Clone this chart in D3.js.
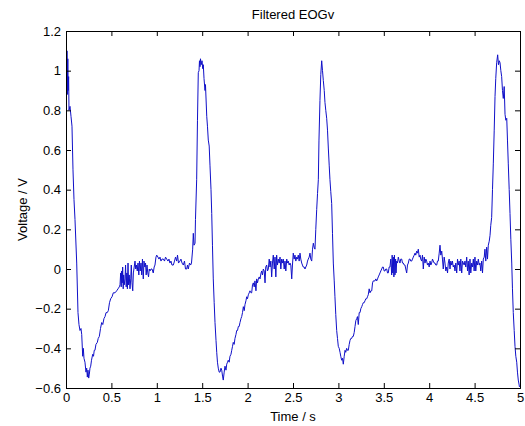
<!DOCTYPE html>
<html>
<head>
<meta charset="utf-8">
<script src="https://cdn.jsdelivr.net/npm/d3@7"></script>
<style>
  body { margin: 0; background: #fff; }
  text { font-family: Arial, "Liberation Sans", sans-serif; fill: #000; }
</style>
</head>
<body>
<div id="chart"></div>
<script>
// Chart size
const width = 525;
const height = 426;
const margin = { top: 31, right: 5, bottom: 38, left: 66 };

// Labels
const titleText = 'Filtered EOGv';
const xLabel = 'Time / s';
const yLabel = 'Voltage / V';

// Axis ticks
const xTicks = [0, 0.5, 1, 1.5, 2, 2.5, 3, 3.5, 4, 4.5, 5];
const yTicks = [-0.6, -0.4, -0.2, 0, 0.2, 0.4, 0.6, 0.8, 1, 1.2];

// Sample times (s)
const timeS = [
    0.000, 0.003, 0.007, 0.011, 0.015, 0.020, 0.024, 0.029, 0.033, 0.044,
    0.055, 0.066, 0.077, 0.088, 0.099, 0.118, 0.132, 0.143, 0.154, 0.165,
    0.173, 0.184, 0.191, 0.198, 0.209, 0.220, 0.228, 0.235, 0.242, 0.250,
    0.257, 0.264, 0.272, 0.281, 0.294, 0.303, 0.311, 0.319, 0.330, 0.345,
    0.355, 0.367, 0.380, 0.393, 0.405, 0.418, 0.430, 0.441, 0.454, 0.466,
    0.479, 0.492, 0.507, 0.521, 0.540, 0.558, 0.573, 0.587, 0.595, 0.602,
    0.608, 0.613, 0.619, 0.624, 0.630, 0.635, 0.641, 0.650, 0.656, 0.663,
    0.670, 0.676, 0.683, 0.689, 0.696, 0.705, 0.713, 0.719, 0.727, 0.735,
    0.742, 0.751, 0.760, 0.768, 0.776, 0.785, 0.793, 0.802, 0.809, 0.817,
    0.826, 0.834, 0.842, 0.851, 0.859, 0.868, 0.876, 0.883, 0.892, 0.901,
    0.909, 0.917, 0.925, 0.936, 0.947, 0.961, 0.971, 0.980, 0.991, 0.999,
    1.013, 1.024, 1.035, 1.046, 1.057, 1.072, 1.085, 1.096, 1.109, 1.123,
    1.134, 1.145, 1.156, 1.167, 1.182, 1.195, 1.206, 1.219, 1.228, 1.239,
    1.255, 1.266, 1.278, 1.292, 1.305, 1.316, 1.329, 1.338, 1.347, 1.360,
    1.373, 1.382, 1.395, 1.402, 1.410, 1.421, 1.426, 1.439, 1.448, 1.457,
    1.465, 1.470, 1.476, 1.481, 1.489, 1.498, 1.506, 1.512, 1.520, 1.531,
    1.536, 1.550, 1.558, 1.567, 1.577, 1.586, 1.597, 1.605, 1.613, 1.622,
    1.632, 1.641, 1.652, 1.660, 1.668, 1.677, 1.687, 1.696, 1.707, 1.715,
    1.724, 1.732, 1.742, 1.751, 1.762, 1.770, 1.779, 1.787, 1.797, 1.806,
    1.817, 1.825, 1.834, 1.842, 1.852, 1.861, 1.872, 1.880, 1.889, 1.898,
    1.907, 1.916, 1.927, 1.935, 1.944, 1.953, 1.963, 1.971, 1.982, 1.990,
    1.999, 2.008, 2.018, 2.026, 2.037, 2.045, 2.054, 2.063, 2.073, 2.081,
    2.092, 2.100, 2.109, 2.118, 2.128, 2.137, 2.148, 2.155, 2.164, 2.173,
    2.183, 2.192, 2.200, 2.210, 2.219, 2.228, 2.238, 2.247, 2.256, 2.265,
    2.274, 2.283, 2.293, 2.302, 2.311, 2.320, 2.329, 2.338, 2.348, 2.357,
    2.366, 2.375, 2.384, 2.393, 2.403, 2.412, 2.421, 2.431, 2.439, 2.448,
    2.458, 2.467, 2.476, 2.486, 2.494, 2.503, 2.513, 2.522, 2.531, 2.541,
    2.549, 2.558, 2.568, 2.577, 2.586, 2.596, 2.604, 2.613, 2.623, 2.632,
    2.641, 2.651, 2.660, 2.668, 2.678, 2.687, 2.696, 2.706, 2.715, 2.724,
    2.733, 2.742, 2.751, 2.761, 2.770, 2.779, 2.786, 2.797, 2.806, 2.816,
    2.825, 2.834, 2.844, 2.852, 2.861, 2.871, 2.880, 2.889, 2.899, 2.907,
    2.916, 2.926, 2.935, 2.944, 2.954, 2.962, 2.971, 2.981, 2.990, 2.999,
    3.009, 3.018, 3.026, 3.036, 3.045, 3.054, 3.064, 3.073, 3.081, 3.091,
    3.100, 3.109, 3.119, 3.128, 3.137, 3.146, 3.155, 3.164, 3.174, 3.183,
    3.192, 3.202, 3.210, 3.219, 3.229, 3.238, 3.247, 3.257, 3.265, 3.274,
    3.284, 3.293, 3.302, 3.312, 3.320, 3.329, 3.339, 3.348, 3.357, 3.367,
    3.376, 3.384, 3.394, 3.403, 3.412, 3.422, 3.431, 3.439, 3.449, 3.458,
    3.467, 3.477, 3.486, 3.494, 3.504, 3.513, 3.522, 3.532, 3.541, 3.549,
    3.559, 3.568, 3.577, 3.587, 3.592, 3.599, 3.605, 3.611, 3.617, 3.623,
    3.630, 3.635, 3.642, 3.651, 3.660, 3.670, 3.678, 3.687, 3.697, 3.706,
    3.715, 3.725, 3.733, 3.742, 3.752, 3.761, 3.770, 3.780, 3.789, 3.797,
    3.807, 3.816, 3.825, 3.835, 3.844, 3.852, 3.862, 3.871, 3.880, 3.890,
    3.899, 3.907, 3.917, 3.926, 3.935, 3.945, 3.954, 3.963, 3.972, 3.981,
    3.990, 4.000, 4.009, 4.018, 4.027, 4.036, 4.045, 4.055, 4.064, 4.073,
    4.083, 4.091, 4.100, 4.110, 4.119, 4.128, 4.138, 4.146, 4.155, 4.165,
    4.174, 4.183, 4.193, 4.202, 4.210, 4.220, 4.229, 4.238, 4.248, 4.256,
    4.265, 4.275, 4.284, 4.293, 4.303, 4.312, 4.320, 4.330, 4.339, 4.348,
    4.358, 4.367, 4.375, 4.385, 4.394, 4.403, 4.413, 4.422, 4.430, 4.440,
    4.449, 4.458, 4.468, 4.477, 4.486, 4.495, 4.504, 4.513, 4.523, 4.532,
    4.541, 4.551, 4.559, 4.568, 4.578, 4.587, 4.596, 4.606, 4.614, 4.623,
    4.633, 4.642, 4.651, 4.661, 4.670, 4.678, 4.688, 4.697, 4.706, 4.716,
    4.725, 4.733, 4.743, 4.754, 4.763, 4.772, 4.780, 4.789, 4.798, 4.807,
    4.816, 4.826, 4.835, 4.844, 4.854, 4.862, 4.871, 4.881, 4.890, 4.899,
    4.909, 4.917, 4.926, 4.936, 4.945, 4.954, 4.964, 4.972, 4.981, 4.989,
    4.994
];

// Filtered vertical EOG (V), same order as timeS
const voltage = [
    0.60, 1.12, 0.90, 1.10, 0.88, 1.06, 0.90, 0.97, 0.80, 0.82,
    0.77, 0.72, 0.50, 0.35, 0.25, 0.03, -0.22, -0.28, -0.31, -0.30,
    -0.33, -0.44, -0.40, -0.45, -0.47, -0.52, -0.50, -0.545, -0.51, -0.55,
    -0.53, -0.50, -0.49, -0.46, -0.43, -0.44, -0.41, -0.41, -0.38, -0.37,
    -0.35, -0.34, -0.30, -0.27, -0.28, -0.25, -0.24, -0.22, -0.22, -0.21,
    -0.17, -0.15, -0.14, -0.12, -0.12, -0.11, -0.10, -0.09, -0.08, -0.02,
    -0.09, -0.01, -0.07, 0.01, -0.10, -0.03, -0.08, -0.05, 0.02, -0.09,
    -0.02, -0.10, 0.03, -0.08, -0.03, -0.10, -0.05, 0.02, -0.07, -0.11,
    -0.02, 0.01, 0.04, 0.00, 0.02, -0.01, 0.03, -0.03, 0.04, -0.01,
    0.03, -0.03, 0.05, -0.05, 0.04, 0.01, 0.03, -0.03, 0.02, -0.02,
    -0.04, 0.00, -0.01, 0.00, 0.00, -0.02, 0.01, 0.02, 0.06, 0.07,
    0.06, 0.05, 0.06, 0.04, 0.05, 0.05, 0.04, 0.06, 0.05, 0.04,
    0.05, 0.03, 0.04, 0.02, 0.02, 0.04, 0.06, 0.04, 0.07, 0.03,
    0.04, 0.05, 0.03, 0.02, 0.04, 0.00, 0.00, 0.02, 0.00, 0.03,
    0.02, 0.03, 0.10, 0.18, 0.12, 0.13, 0.25, 0.45, 0.75, 0.99,
    1.00, 1.05, 1.02, 1.06, 1.03, 1.05, 1.01, 1.03, 0.96, 0.90,
    0.93, 0.77, 0.72, 0.65, 0.62, 0.52, 0.40, 0.28, 0.12, -0.05,
    -0.17, -0.27, -0.36, -0.42, -0.47, -0.50, -0.52, -0.52, -0.50, -0.51,
    -0.54, -0.56, -0.52, -0.49, -0.51, -0.48, -0.47, -0.46, -0.47, -0.44,
    -0.43, -0.41, -0.39, -0.37, -0.38, -0.35, -0.33, -0.31, -0.31, -0.29,
    -0.29, -0.27, -0.25, -0.24, -0.22, -0.19, -0.21, -0.18, -0.16, -0.14,
    -0.15, -0.13, -0.12, -0.11, -0.12, -0.12, -0.08, -0.07, -0.09, -0.06,
    -0.11, -0.05, -0.07, -0.05, -0.04, -0.05, -0.02, -0.01, -0.03, 0.00,
    -0.01, -0.07, 0.01, 0.02, -0.01, 0.00, 0.05, 0.01, 0.04, -0.04,
    0.03, 0.07, 0.00, 0.06, -0.04, 0.07, 0.02, 0.05, 0.03, 0.06,
    0.00, 0.05, 0.03, 0.05, 0.00, 0.04, -0.01, 0.05, 0.03, 0.04,
    0.02, 0.03, 0.02, -0.05, 0.02, 0.08, 0.05, 0.07, 0.04, 0.06,
    0.05, 0.07, 0.04, 0.08, 0.05, 0.03, 0.02, 0.01, 0.01, 0.00,
    0.01, 0.02, 0.04, 0.05, 0.06, 0.08, 0.05, 0.04, 0.10, 0.13,
    0.11, 0.10, 0.20, 0.30, 0.38, 0.45, 0.65, 0.85, 0.98, 1.05,
    1.00, 0.95, 0.90, 0.84, 0.80, 0.76, 0.70, 0.61, 0.52, 0.45,
    0.39, 0.33, 0.18, 0.03, -0.06, -0.14, -0.23, -0.31, -0.35, -0.39,
    -0.40, -0.42, -0.44, -0.46, -0.45, -0.48, -0.44, -0.41, -0.42, -0.40,
    -0.41, -0.41, -0.38, -0.36, -0.35, -0.35, -0.34, -0.34, -0.32, -0.29,
    -0.26, -0.25, -0.24, -0.28, -0.22, -0.22, -0.20, -0.19, -0.18, -0.17,
    -0.17, -0.16, -0.15, -0.15, -0.14, -0.13, -0.10, -0.12, -0.11, -0.11,
    -0.07, -0.06, -0.06, -0.06, -0.05, -0.06, -0.05, -0.04, -0.03, -0.02,
    -0.01, 0.00, 0.01, 0.01, -0.01, -0.01, 0.00, 0.00, -0.02, -0.02,
    0.01, 0.01, 0.05, -0.03, 0.07, -0.02, 0.06, -0.04, 0.07, -0.03,
    0.05, -0.02, 0.04, 0.03, 0.06, 0.04, 0.03, 0.05, 0.05, 0.03,
    0.03, 0.02, 0.02, 0.00, -0.02, 0.02, 0.03, 0.05, 0.05, 0.04,
    0.04, 0.05, 0.06, 0.07, 0.08, 0.07, 0.09, 0.08, 0.10, 0.06,
    0.07, 0.05, 0.04, 0.07, 0.00, 0.06, 0.03, 0.05, 0.04, 0.02,
    0.03, 0.01, 0.04, 0.02, 0.03, 0.05, 0.04, 0.03, 0.03, 0.02,
    0.02, 0.04, 0.04, 0.08, 0.12, 0.07, 0.09, 0.05, 0.00, 0.06,
    0.03, -0.01, 0.01, -0.02, 0.03, 0.05, 0.00, 0.04, 0.02, 0.04,
    0.01, 0.02, -0.01, 0.03, -0.02, 0.05, 0.02, 0.04, -0.01, 0.05,
    -0.02, 0.04, 0.03, 0.02, 0.04, 0.01, 0.06, -0.01, 0.04, -0.03,
    0.05, -0.02, 0.03, 0.01, 0.05, -0.01, 0.06, -0.01, 0.04, 0.02,
    0.05, 0.02, 0.03, -0.01, 0.04, -0.02, 0.05, 0.06, 0.10, 0.04,
    0.11, 0.05, 0.12, 0.14, 0.17, 0.22, 0.26, 0.40, 0.53, 0.70,
    0.87, 0.96, 1.04, 1.08, 1.03, 1.05, 1.04, 1.00, 0.97, 0.90,
    0.86, 0.92, 0.78, 0.75, 0.76, 0.65, 0.53, 0.40, 0.28, 0.15,
    0.03, -0.10, -0.22, -0.31, -0.39, -0.44, -0.47, -0.52, -0.56, -0.58,
    -0.595
];

const samples = d3.zip(timeS, voltage);

const svg = d3.select('#chart')
    .append('svg')
    .attr('width', width)
    .attr('height', height);

const x = d3.scaleLinear()
    .domain([0, 5])
    .range([margin.left, width - margin.right]);

const y = d3.scaleLinear()
    .domain([-0.6, 1.2])
    .range([height - margin.bottom, margin.top]);

const tickLen = 5;

// Keep the trace inside the axes box
svg.append('clipPath').attr('id', 'plot-clip')
    .append('rect')
    .attr('x', x(0)).attr('y', y(1.2))
    .attr('width', x(5) - x(0)).attr('height', y(-0.6) - y(1.2));

svg.append('path')
    .datum(samples)
    .attr('clip-path', 'url(#plot-clip)')
    .attr('fill', 'none')
    .attr('stroke', '#1010c8')
    .attr('stroke-width', 1)
    .attr('d', d3.line().x(d => x(d[0])).y(d => y(d[1])));

// Bottom and left axes with inward ticks (MATLAB style)
svg.append('g')
    .attr('transform', `translate(0,${y(-0.6)})`)
    .call(d3.axisBottom(x).tickValues(xTicks).tickSize(-tickLen).tickPadding(5).tickFormat(d3.format('')));

svg.append('g')
    .attr('transform', `translate(${x(0)},0)`)
    .call(d3.axisLeft(y).tickValues(yTicks).tickSize(-tickLen).tickPadding(5).tickFormat(d3.format('')));

// Top and right mirror axes, no labels
svg.append('g')
    .attr('transform', `translate(0,${y(1.2)})`)
    .call(d3.axisTop(x).tickValues(xTicks).tickSize(-tickLen).tickFormat(''));

svg.append('g')
    .attr('transform', `translate(${x(5)},0)`)
    .call(d3.axisRight(y).tickValues(yTicks).tickSize(-tickLen).tickFormat(''));

svg.selectAll('.domain').attr('stroke', '#000');
svg.selectAll('.tick line').attr('stroke', '#000');
svg.selectAll('.tick text')
    .attr('font-family', 'Arial, "Liberation Sans", sans-serif')
    .attr('font-size', 13)
    .attr('fill', '#000');

// Title and axis labels
svg.append('text')
    .attr('x', (x(0) + x(5)) / 2)
    .attr('y', 19)
    .attr('text-anchor', 'middle')
    .attr('font-size', 13)
    .text(titleText);

svg.append('text')
    .attr('x', (x(0) + x(5)) / 2)
    .attr('y', 421)
    .attr('text-anchor', 'middle')
    .attr('font-size', 13)
    .text(xLabel);

svg.append('text')
    .attr('transform', `translate(27,${(y(-0.6) + y(1.2)) / 2}) rotate(-90)`)
    .attr('text-anchor', 'middle')
    .attr('font-size', 13)
    .text(yLabel);
</script>
</body>
</html>
